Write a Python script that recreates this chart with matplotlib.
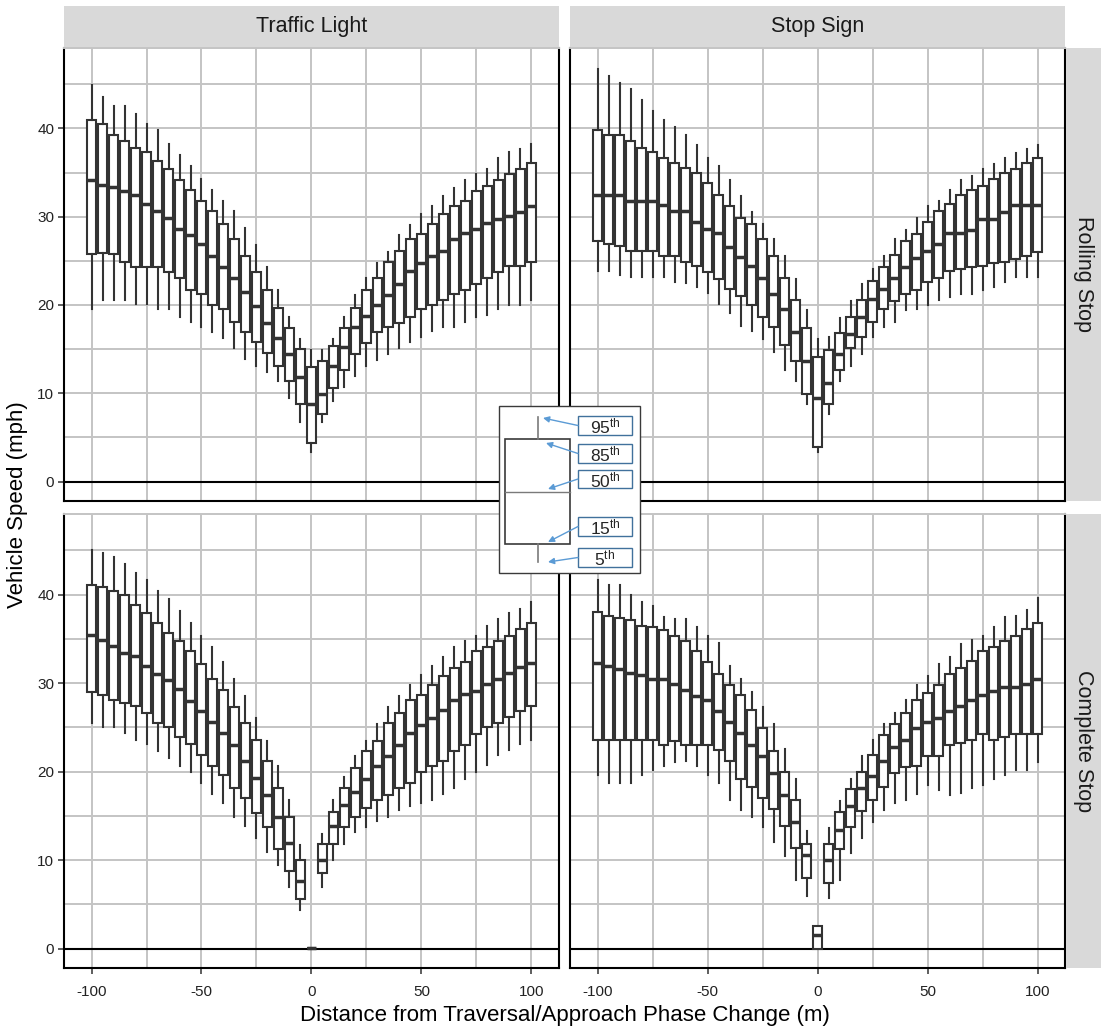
import matplotlib
matplotlib.use("Agg")
import matplotlib.pyplot as plt
from matplotlib.patches import Rectangle, FancyArrowPatch

plt.rcParams['font.family'] = ['Liberation Sans', 'DejaVu Sans']
plt.rcParams['mathtext.fontset'] = 'custom'
plt.rcParams['mathtext.rm'] = 'Liberation Sans'
plt.rcParams['mathtext.default'] = 'regular'

# Distance bins (m) relative to the traversal/approach phase change
distance = list(range(-100, 101, 5))
signal_types = ["Traffic Light", "Stop Sign"]
stop_types = ["Rolling Stop", "Complete Stop"]
y_ticks = [0, 10, 20, 30, 40]
x_ticks = [-100, -50, 0, 50, 100]

# Speed percentiles (mph): Traffic Light / Rolling Stop
tl_rolling_p95 = [44.9, 43.6, 42.5, 42.5, 41.6, 40.5, 39.8, 38.2, 37.0, 35.7, 34.3, 33.0, 31.8, 30.6, 28.7, 26.8, 24.3, 21.7, 18.6, 16.2, 14.9,
                  14.9, 16.2, 18.6, 21.1, 23.1, 24.8, 26.0, 27.9, 29.1, 30.3, 31.2, 32.3, 33.3, 34.2, 34.8, 35.4, 36.6, 37.3, 37.7, 38.2]
tl_rolling_p85 = [40.9, 40.5, 39.3, 38.6, 37.8, 37.3, 36.3, 35.4, 34.2, 33.0, 31.8, 30.6, 29.2, 27.5, 25.6, 23.7, 21.7, 19.7, 17.4, 15.0, 13.0,
                  13.7, 15.3, 17.4, 19.6, 21.7, 23.1, 24.9, 26.1, 27.5, 28.0, 29.2, 30.3, 31.2, 31.8, 32.9, 33.5, 34.2, 34.8, 35.4, 36.1]
tl_rolling_p50 = [34.2, 33.6, 33.4, 32.9, 32.4, 31.4, 30.6, 29.9, 28.6, 27.9, 26.9, 25.6, 24.3, 23.1, 21.5, 19.9, 18.0, 16.3, 14.4, 11.8, 8.8,
                  9.9, 13.1, 15.2, 17.5, 18.7, 20.0, 21.1, 22.4, 23.8, 24.7, 25.5, 26.1, 27.5, 28.1, 28.6, 29.3, 29.7, 30.1, 30.5, 31.2]
tl_rolling_p15 = [25.8, 25.9, 25.8, 24.9, 24.3, 24.3, 24.3, 23.7, 23.1, 21.7, 21.2, 20.0, 19.5, 18.1, 16.9, 15.8, 14.6, 13.1, 11.4, 8.8, 4.4,
                  7.6, 10.6, 12.6, 14.4, 15.7, 16.9, 17.5, 18.0, 18.6, 19.5, 20.0, 20.6, 21.2, 21.7, 22.4, 23.1, 23.7, 24.4, 24.4, 24.9]
tl_rolling_p5 = [19.5, 20.6, 20.6, 20.6, 20.1, 20.1, 19.5, 19.5, 18.6, 18.1, 17.5, 16.9, 16.3, 15.1, 13.9, 13.1, 12.4, 11.4, 9.5, 6.8, 3.3,
                 6.7, 9.1, 10.7, 12.0, 13.1, 13.8, 14.4, 15.1, 15.8, 16.4, 17.0, 17.5, 17.5, 18.1, 18.6, 18.9, 19.5, 20.0, 20.0, 20.6]

# Speed percentiles (mph): Stop Sign / Rolling Stop
ss_rolling_p95 = [46.7, 45.9, 45.1, 44.5, 43.2, 42.0, 40.9, 40.1, 39.2, 38.1, 36.6, 35.7, 34.2, 32.3, 30.5, 29.2, 27.5, 25.5, 22.9, 19.4, 16.2,
                  16.4, 18.5, 20.4, 22.4, 24.1, 25.6, 27.5, 28.5, 29.8, 31.2, 31.8, 33.0, 34.2, 34.6, 35.4, 36.0, 36.6, 37.2, 37.7, 38.1]
ss_rolling_p85 = [39.8, 39.3, 39.3, 38.6, 37.8, 37.3, 36.6, 36.1, 35.5, 34.9, 33.8, 32.4, 31.2, 29.8, 29.2, 27.5, 25.5, 23.1, 20.6, 17.4, 14.1,
                  14.9, 16.8, 18.6, 20.6, 22.7, 24.3, 25.7, 27.2, 28.0, 29.4, 30.6, 31.4, 32.4, 33.0, 33.5, 34.3, 34.9, 35.4, 36.1, 36.6]
ss_rolling_p50 = [32.4, 32.4, 32.4, 31.8, 31.8, 31.8, 31.3, 30.6, 30.6, 29.4, 28.6, 28.1, 26.6, 25.4, 24.4, 23.1, 21.2, 19.5, 16.9, 13.7, 9.5,
                  11.2, 14.4, 16.7, 18.6, 20.7, 21.8, 23.1, 24.3, 25.3, 26.1, 26.9, 28.1, 28.1, 28.5, 29.7, 29.7, 30.5, 31.3, 31.3, 31.3]
ss_rolling_p15 = [27.2, 26.9, 26.7, 26.1, 26.1, 26.1, 25.6, 25.5, 24.9, 24.4, 23.7, 22.9, 21.8, 21.0, 20.0, 18.6, 17.5, 15.5, 13.7, 9.9, 3.9,
                  8.8, 12.6, 15.1, 16.4, 18.1, 19.5, 20.5, 21.2, 21.7, 22.6, 23.1, 23.8, 24.1, 24.3, 24.4, 24.8, 24.9, 25.2, 25.6, 26.0]
ss_rolling_p5 = [23.8, 23.8, 23.4, 23.2, 23.2, 23.2, 23.2, 22.6, 22.5, 22.0, 21.4, 20.1, 19.1, 17.6, 17.0, 16.2, 14.7, 12.6, 11.4, 8.8, 3.4,
                 7.6, 11.4, 13.1, 14.4, 16.4, 17.5, 18.1, 19.4, 19.5, 20.0, 20.6, 20.9, 21.2, 21.2, 21.7, 22.0, 22.6, 23.2, 23.2, 23.2]

# Speed percentiles (mph): Traffic Light / Complete Stop
tl_complete_p95 = [45.0, 44.7, 44.2, 43.4, 42.4, 41.6, 40.4, 39.5, 38.1, 36.8, 35.3, 34.1, 32.4, 30.4, 28.5, 26.1, 23.5, 20.6, 16.8, 11.7, 0.1,
                   12.9, 16.8, 19.4, 21.7, 23.5, 25.4, 27.3, 28.5, 29.8, 30.9, 31.9, 32.9, 34.1, 34.8, 35.3, 36.5, 37.2, 37.9, 38.4, 39.1]
tl_complete_p85 = [41.1, 40.8, 40.4, 39.9, 38.8, 37.9, 36.8, 35.6, 34.8, 33.6, 32.2, 30.4, 29.2, 27.3, 25.5, 23.6, 21.2, 18.1, 14.9, 10.0, 0.1,
                   11.8, 15.4, 18.1, 20.4, 22.3, 23.5, 25.5, 26.6, 28.1, 28.6, 29.8, 30.8, 31.7, 32.4, 33.6, 34.1, 34.8, 35.3, 36.1, 36.8]
tl_complete_p50 = [35.4, 34.9, 34.2, 33.4, 33.0, 31.9, 31.0, 30.3, 29.3, 28.0, 26.8, 25.6, 24.4, 23.0, 21.2, 19.3, 17.4, 14.9, 11.9, 7.6, 0.1,
                   10.0, 13.8, 16.2, 17.7, 19.2, 20.6, 21.7, 23.0, 24.4, 25.3, 26.0, 26.9, 28.1, 28.8, 29.1, 29.9, 30.4, 31.1, 31.8, 32.3]
tl_complete_p15 = [29.0, 28.7, 28.1, 27.8, 27.4, 26.6, 25.5, 25.0, 23.9, 23.1, 21.9, 20.6, 19.6, 18.1, 17.0, 15.3, 13.7, 11.2, 8.8, 5.6, 0.1,
                   8.5, 11.8, 13.7, 14.9, 15.9, 16.8, 17.4, 18.1, 18.7, 19.9, 20.6, 21.2, 22.3, 23.0, 24.2, 25.0, 25.5, 26.2, 26.8, 27.4]
tl_complete_p5 = [25.5, 25.0, 25.0, 24.4, 23.6, 23.1, 22.3, 21.5, 20.6, 20.0, 18.7, 17.5, 16.4, 14.9, 13.9, 12.5, 10.9, 9.4, 6.9, 4.3, 0.1,
                  6.9, 10.0, 11.8, 13.2, 13.7, 14.4, 14.9, 15.6, 16.1, 16.5, 16.8, 17.5, 18.1, 19.2, 20.0, 20.7, 21.9, 22.4, 23.1, 23.6]

# Speed percentiles (mph): Stop Sign / Complete Stop
ss_complete_p95 = [41.6, 41.1, 41.1, 39.9, 39.2, 38.7, 37.5, 37.2, 37.2, 36.3, 35.3, 34.5, 31.9, 30.4, 29.0, 27.3, 25.4, 22.6, 19.1, 13.3, 2.6,
                   13.6, 16.7, 19.2, 21.7, 23.6, 25.4, 26.6, 28.1, 29.8, 30.8, 32.2, 32.9, 34.4, 34.9, 35.3, 36.3, 37.5, 37.6, 38.3, 39.6]
ss_complete_p85 = [38.0, 37.6, 37.3, 37.1, 36.5, 36.3, 36.0, 35.3, 34.7, 33.6, 32.4, 31.0, 29.8, 28.6, 26.9, 24.9, 22.3, 19.9, 16.8, 11.8, 2.5,
                   11.8, 15.4, 18.0, 20.0, 21.9, 24.1, 25.4, 26.6, 28.1, 28.9, 29.8, 31.0, 31.7, 32.5, 33.6, 34.1, 34.8, 35.3, 36.1, 36.8]
ss_complete_p50 = [32.3, 31.9, 31.6, 31.1, 30.9, 30.4, 30.4, 29.9, 29.2, 28.5, 28.1, 26.8, 25.6, 24.4, 23.0, 21.7, 19.8, 17.3, 14.3, 10.6, 1.5,
                   10.0, 13.4, 16.1, 18.1, 19.5, 21.2, 22.8, 23.6, 24.9, 25.6, 26.0, 26.8, 27.4, 28.1, 28.7, 29.1, 29.5, 29.5, 29.9, 30.4]
ss_complete_p15 = [23.6, 23.6, 23.6, 23.6, 23.6, 23.6, 23.0, 23.4, 23.0, 23.0, 23.0, 22.4, 21.2, 19.2, 18.3, 17.0, 15.8, 13.8, 11.4, 8.0, 0.0,
                   7.4, 11.2, 13.7, 15.5, 16.8, 18.3, 19.8, 20.5, 20.6, 21.7, 21.7, 23.0, 23.2, 23.6, 24.2, 23.6, 23.9, 24.2, 24.2, 24.2]
ss_complete_p5 = [19.6, 18.7, 18.7, 18.7, 19.6, 20.2, 20.6, 21.1, 21.2, 20.6, 19.6, 18.7, 16.8, 15.7, 14.9, 13.7, 12.0, 10.4, 7.8, 5.9, 0.0,
                  5.7, 7.8, 10.8, 12.5, 14.3, 15.7, 16.4, 16.8, 17.5, 18.5, 17.9, 17.3, 17.6, 18.1, 18.5, 19.1, 19.6, 20.2, 20.2, 21.1]

panels = {
    ("Rolling Stop", "Traffic Light"): (tl_rolling_p5, tl_rolling_p15, tl_rolling_p50, tl_rolling_p85, tl_rolling_p95),
    ("Rolling Stop", "Stop Sign"): (ss_rolling_p5, ss_rolling_p15, ss_rolling_p50, ss_rolling_p85, ss_rolling_p95),
    ("Complete Stop", "Traffic Light"): (tl_complete_p5, tl_complete_p15, tl_complete_p50, tl_complete_p85, tl_complete_p95),
    ("Complete Stop", "Stop Sign"): (ss_complete_p5, ss_complete_p15, ss_complete_p50, ss_complete_p85, ss_complete_p95),
}

W, H = 1101, 1031
fig = plt.figure(figsize=(W / 100, H / 100), dpi=100)
fig.patch.set_facecolor('white')

col_x = [64, 570]
panel_w = 495
row_y = [(48, 501), (514, 968)]
ink = '#333333'
grid_col = '#c4c4c4'
strip_col = '#d9d9d9'


def fig_rect(x0, y0, x1, y1):
    return [x0 / W, 1 - y1 / H, (x1 - x0) / W, (y1 - y0) / H]


for r, stop in enumerate(stop_types):
    for c, sig in enumerate(signal_types):
        y0, y1 = row_y[r]
        ax = fig.add_axes(fig_rect(col_x[c], y0, col_x[c] + panel_w, y1))
        p5, p15, p50, p85, p95 = panels[(stop, sig)]
        stats = [dict(whislo=a, q1=b, med=m, q3=d, whishi=e, fliers=[])
                 for a, b, m, d, e in zip(p5, p15, p50, p85, p95)]
        ax.axhline(0, color='black', lw=1.5, zorder=1.5)
        ax.bxp(stats, positions=distance, widths=4.5, showcaps=False, showfliers=False,
               patch_artist=True, manage_ticks=False,
               boxprops=dict(facecolor='white', edgecolor=ink, linewidth=1.5),
               medianprops=dict(color=ink, linewidth=2.5, solid_capstyle='butt'),
               whiskerprops=dict(color=ink, linewidth=1.5))
        ax.set_xlim(-112.5, 112.5)
        ax.set_ylim(-2.2, 49.1)
        ax.set_xticks(x_ticks)
        ax.set_xticks([-75, -25, 25, 75], minor=True)
        ax.set_yticks(y_ticks)
        ax.set_yticks([5, 15, 25, 35, 45], minor=True)
        ax.set_axisbelow(True)
        ax.grid(True, which='both', color=grid_col, lw=1.4)
        ax.tick_params(which='minor', length=0)
        ax.tick_params(which='major', length=4.5, width=1.1, color=ink,
                       labelsize=11, labelcolor='#222222')
        ax.tick_params(axis='y', pad=2.5)
        ax.tick_params(axis='x', pad=8)
        for side in ('left', 'right', 'bottom'):
            ax.spines[side].set_color('black')
            ax.spines[side].set_linewidth(1.5)
        ax.spines['top'].set_color(grid_col)
        ax.spines['top'].set_linewidth(1.4)
        if c == 0:
            ax.set_yticklabels([str(v) for v in y_ticks])
        else:
            ax.tick_params(axis='y', which='major', length=0, labelleft=False)
        if r == 1:
            ax.set_xticklabels([str(v) for v in x_ticks])
        else:
            ax.tick_params(axis='x', which='major', length=0, labelbottom=False)

# Column strips (signal type)
for c, sig in enumerate(signal_types):
    sax = fig.add_axes(fig_rect(col_x[c], 6, col_x[c] + panel_w, 47))
    sax.set_facecolor(strip_col)
    sax.set_xticks([]); sax.set_yticks([])
    for s in sax.spines.values():
        s.set_visible(False)
    sax.text(0.5, 0.5, sig, ha='center', va='center', fontsize=15.5, color='#1a1a1a',
             transform=sax.transAxes)

# Row strips (stop type)
for r, stop in enumerate(stop_types):
    y0, y1 = row_y[r]
    sax = fig.add_axes(fig_rect(1066, y0, 1101, y1))
    sax.set_facecolor(strip_col)
    sax.set_xticks([]); sax.set_yticks([])
    for s in sax.spines.values():
        s.set_visible(False)
    sax.text(0.5, 0.5, stop, ha='center', va='center', fontsize=15.5, color='#1a1a1a',
             rotation=-90, transform=sax.transAxes)

fig.text(565 / W, 1 - 1015 / H, "Distance from Traversal/Approach Phase Change (m)",
         ha='center', va='center', fontsize=16, color='black')
fig.text(18 / W, 1 - 505 / H, "Vehicle Speed (mph)", ha='center', va='center',
         rotation=90, fontsize=16, color='black')

# Percentile key drawn over the middle of the grid
key = fig.add_axes([0, 0, 1, 1], zorder=10)
key.set_xlim(0, W)
key.set_ylim(H, 0)
key.axis('off')
key.add_patch(Rectangle((499, 406), 141, 167, facecolor='white', edgecolor='#3a3a3a', lw=1.0))
key.add_patch(Rectangle((505, 439), 65, 105, facecolor='none', edgecolor='#3a3a3a', lw=1.2))
key.plot([505, 570], [491.7, 491.7], color='#7a7a7a', lw=1.0)
key.plot([537.7, 537.7], [417, 439], color='#7a7a7a', lw=1.2)
key.plot([537.7, 537.7], [544, 562], color='#7a7a7a', lw=1.2)

key_labels = ['95', '85', '50', '15', '5']
key_boxes = [(416, 435), (444, 463), (470, 488), (517, 536), (548, 567)]
key_targets = [(543, 418), (546, 443), (548, 489), (548, 542), (548, 562)]
for lab, (t, b), tgt in zip(key_labels, key_boxes, key_targets):
    key.add_patch(Rectangle((578, t), 54, b - t, facecolor='white', edgecolor='#41719c', lw=1.0))
    key.text(605, (t + b) / 2 + 1, lab + r'$^{th}$', ha='center', va='center',
             fontsize=12.5, color='#262626')
    key.add_patch(FancyArrowPatch((578, (t + b) / 2), tgt, arrowstyle='-|>',
                                  mutation_scale=9, color='#5b9bd5', lw=1.0,
                                  shrinkA=0, shrinkB=0))

fig.savefig('out.png', dpi=100)
